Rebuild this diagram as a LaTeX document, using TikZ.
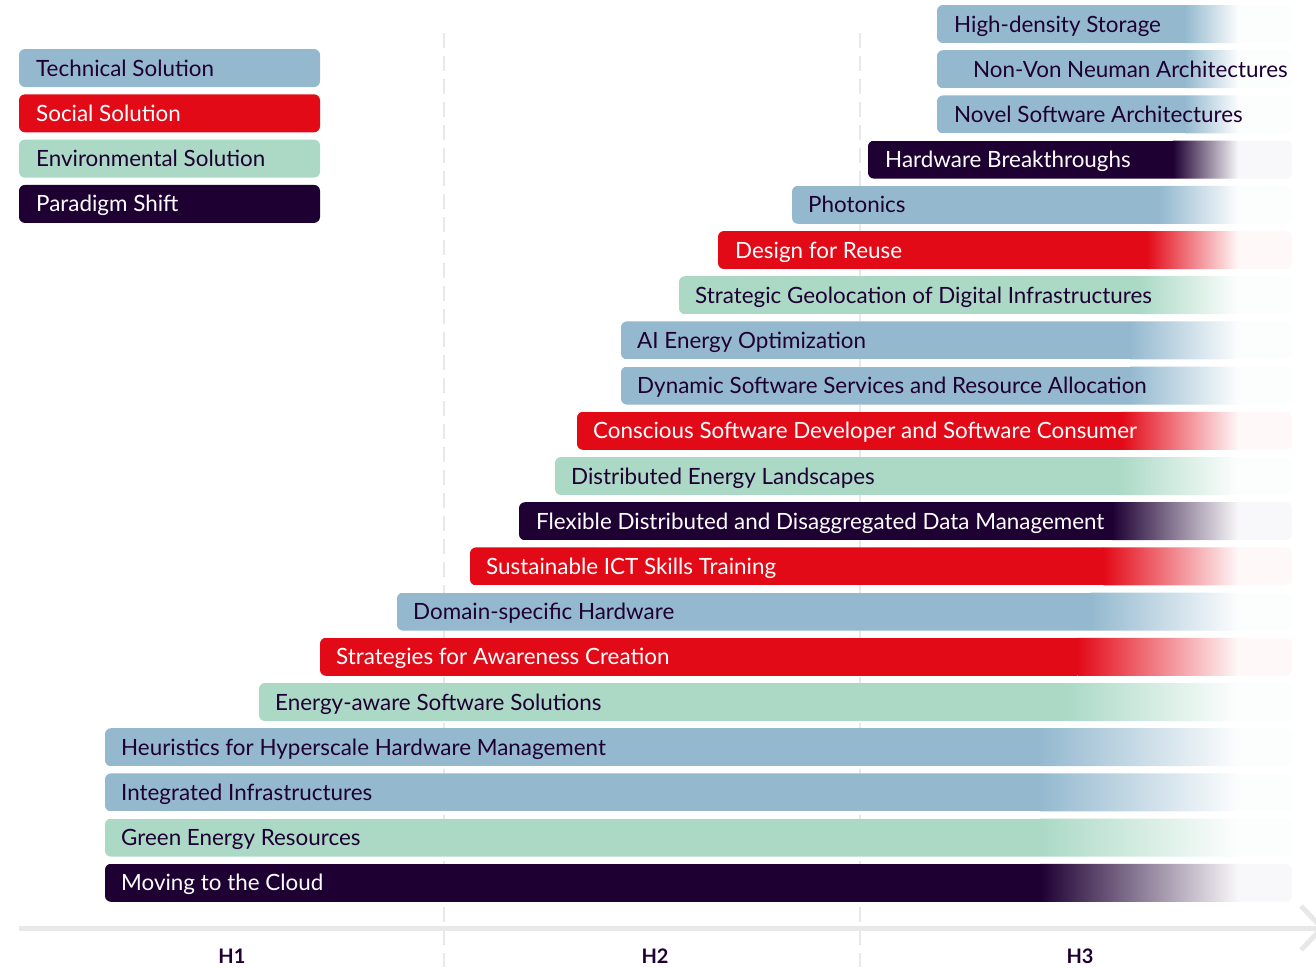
\documentclass[tikz,border=0pt]{standalone}
\usepackage{fontspec}
\setmainfont{Lato}
\usetikzlibrary{calc}
\definecolor{techblue}{HTML}{94B9CF}
\definecolor{socialred}{HTML}{E30A18}
\definecolor{envgreen}{HTML}{ABD9C6}
\definecolor{shiftpurple}{HTML}{1E0033}
\definecolor{axisgrey}{HTML}{E8E8E8}

\begin{document}
\begin{tikzpicture}[x=1pt,y=-1pt]
\tikzstyle{bartext}=[anchor=base west,inner sep=0pt,font=\fontsize{22.4}{26}\selectfont]
\tikzstyle{horizon}=[inner sep=0pt,text=shiftpurple,font=\bfseries\fontsize{20}{24}\selectfont]
\tikzstyle{guide}=[axisgrey,line width=2pt,dash pattern=on 15pt off 8pt]
\useasboundingbox (0,0) rectangle (1316,967);
\clip (0,0) rectangle (1316,967);

% horizon guides
\draw[guide] (444,33) -- (444,967);
\draw[guide] (860,33) -- (860,967);

% time axis
\coordinate (axisstart) at (19,928);
\coordinate (axisend) at (1322,928);
\draw[axisgrey,line width=5pt] (axisstart) -- (axisend);
\draw[axisgrey,line width=5pt] ($(axisend)+(-21,-22)$) -- (axisend) -- ($(axisend)+(-21,22)$);
\node[horizon] (h1) at (232,956) {H1};
\node[horizon] (h2) at (655,956) {H2};
\node[horizon] (h3) at (1080,956) {H3};

% legend
\foreach \c/\t/\l [count=\i from 0] in {
  techblue/shiftpurple/Technical Solution,
  socialred/white/Social Solution,
  envgreen/shiftpurple/Environmental Solution,
  shiftpurple/white/Paradigm Shift}{
  \pgfmathsetmacro\yc{68+45.3*\i}
  \fill[\c,rounded corners=6pt] (19,\yc-19) rectangle (320,\yc+19);
  \node[bartext,text=\t] (legend\i) at (36,\yc+8) {\l};
}

% roadmap bars
\foreach \x/\d/\c/\t/\l [count=\i from 0] in {
  937/17/techblue/shiftpurple/High-density Storage,
  937/36/techblue/shiftpurple/Non-Von Neuman Architectures,
  937/17/techblue/shiftpurple/Novel Software Architectures,
  868/17/shiftpurple/white/Hardware Breakthroughs,
  792/16/techblue/shiftpurple/Photonics,
  718/17/socialred/white/Design for Reuse,
  679/16/envgreen/shiftpurple/Strategic Geolocation of Digital Infrastructures,
  621/16/techblue/shiftpurple/AI Energy Optimization,
  621/16/techblue/shiftpurple/Dynamic Software Services and Resource Allocation,
  577/16/socialred/white/Conscious Software Developer and Software Consumer,
  555/16/envgreen/shiftpurple/Distributed Energy Landscapes,
  519/17/shiftpurple/white/Flexible Distributed and Disaggregated Data Management,
  470/16/socialred/white/Sustainable ICT Skills Training,
  397/16/techblue/shiftpurple/Domain-specific Hardware,
  320/16/socialred/white/Strategies for Awareness Creation,
  259/16/envgreen/shiftpurple/Energy-aware Software Solutions,
  105/16/techblue/shiftpurple/Heuristics for Hyperscale Hardware Management,
  105/16/techblue/shiftpurple/Integrated Infrastructures,
  105/16/envgreen/shiftpurple/Green Energy Resources,
  105/16/shiftpurple/white/Moving to the Cloud}{
  \pgfmathsetmacro\yc{24+45.2*\i}
  \pgfmathsetmacro\xf{1040+0.174*(\x-105)}
  \begin{scope}
    \clip[rounded corners=6pt] (\x,\yc-19) rectangle (1292,\yc+19);
    \fill[\c!3] (\x,\yc-19) rectangle (1292,\yc+19);
    \fill[\c] (\x,\yc-19) rectangle (\xf,\yc+19);
    \shade[left color=\c,right color=\c!3] (\xf,\yc-19) rectangle (1238,\yc+19);
  \end{scope}
  \node[bartext,text=\t] (item\i) at (\x+\d,\yc+8) {\l};
}
\end{tikzpicture}
\end{document}
